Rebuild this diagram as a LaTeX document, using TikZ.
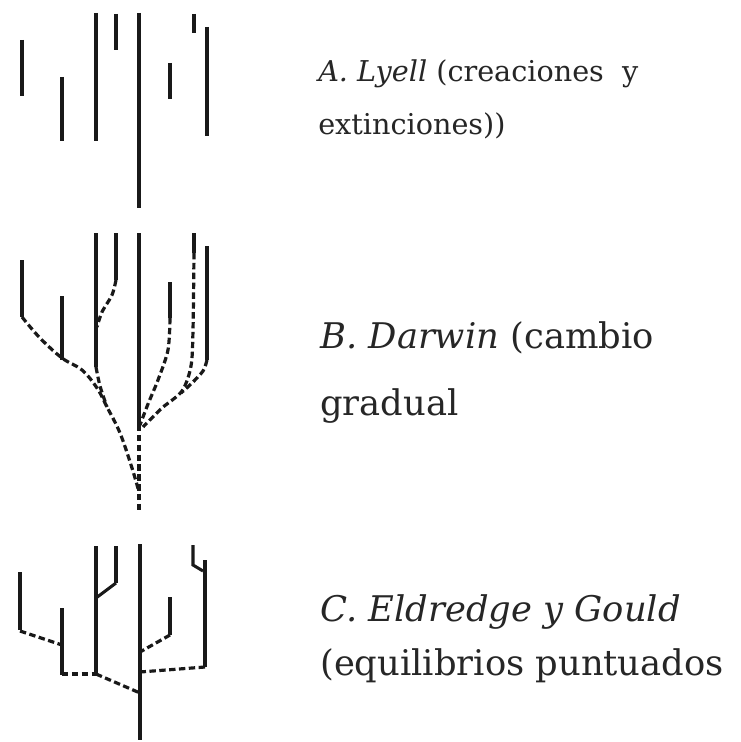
\documentclass[tikz,border=0pt]{standalone}
\usepackage{fontspec}
\setmainfont{DejaVu Serif}
\begin{document}
\begin{tikzpicture}[x=0.75pt,y=-0.75pt,
  br/.style={line width=2.3pt,color=black!90},
  dsh/.style={line width=2.4pt,color=black!90,dash pattern=on 4.8pt off 2.6pt},
  lbl/.style={anchor=base west,inner sep=0pt,text=black!85},
  lblA/.style={lbl,font=\fontsize{21.5}{26}\selectfont},
  lblB/.style={lbl,font=\fontsize{26.5}{32}\selectfont}]
\useasboundingbox[fill=white] (0,0) rectangle (740,742);
% ---- A. Lyell
\draw[br] (22,40) -- (22,96);
\draw[br] (62,77) -- (62,141);
\draw[br] (96,13) -- (96,141);
\draw[br] (116,14) -- (116,50);
\draw[br] (139,13) -- (139,208);
\draw[br] (170,63) -- (170,99);
\draw[br] (194,14) -- (194,33);
\draw[br] (207,27) -- (207,136);
\node[lblA] (a1) at (318,81) {\textit{A. Lyell} (creaciones\ \ y};
\node[lblA] (a2) at (318,134) {extinciones))};
% ---- B. Darwin
\draw[br] (22,260) -- (22,317);
\draw[br] (62,296) -- (62,360);
\draw[br] (96,233) -- (96,367);
\draw[br] (116,233) -- (116,280);
\draw[br] (139,233) -- (139,425);
\draw[br] (170,282) -- (170,318);
\draw[br] (194,233) -- (194,253);
\draw[br] (207,246) -- (207,360);
\draw[dsh] plot[smooth,tension=0.6] coordinates {(22,317) (40,338) (62,358) (82,370) (97,388) (107,407) (120,433) (132,468) (139,492)};
\draw[dsh] plot[smooth] coordinates {(96,367) (100,386) (107,407)};
\draw[dsh] plot[smooth] coordinates {(116,280) (112,295) (102,312) (97,327)};
\draw[dsh] (139,425) -- (139,513);
\draw[dsh] plot[smooth] coordinates {(170,318) (168,350) (158,380) (148,404) (140,425)};
\draw[dsh] plot[smooth] coordinates {(194,253) (193,330) (191,366) (182,391) (162,408) (143,427)};
\draw[dsh] plot[smooth] coordinates {(207,360) (203,371) (191,384) (181,393)};
\node[lblB] (b1) at (320,348) {\textit{B. Darwin} (cambio};
\node[lblB] (b2) at (320,415) {gradual};
% ---- C. Eldredge y Gould
\draw[br] (20,572) -- (20,630);
\draw[br] (62,608) -- (62,675);
\draw[br] (96,546) -- (96,675);
\draw[br] (96,598) -- (116,583);
\draw[br] (116,546) -- (116,583);
\draw[br] (140,544) -- (140,740);
\draw[br] (170,597) -- (170,635);
\draw[br] (193,545) -- (193,565) -- (203,571);
\draw[br] (205,560) -- (205,667);
\draw[dsh] (20,631) -- (62,645);
\draw[dsh] (62,674) -- (96,674);
\draw[dsh] (96,674) -- (140,693);
\draw[dsh] (170,635) -- (140,652);
\draw[dsh] (205,667) -- (140,672);
\node[lblB] (c1) at (320,621) {\textit{C. Eldredge y Gould}};
\node[lblB] (c2) at (320,675) {(equilibrios puntuados};
\end{tikzpicture}
\end{document}
